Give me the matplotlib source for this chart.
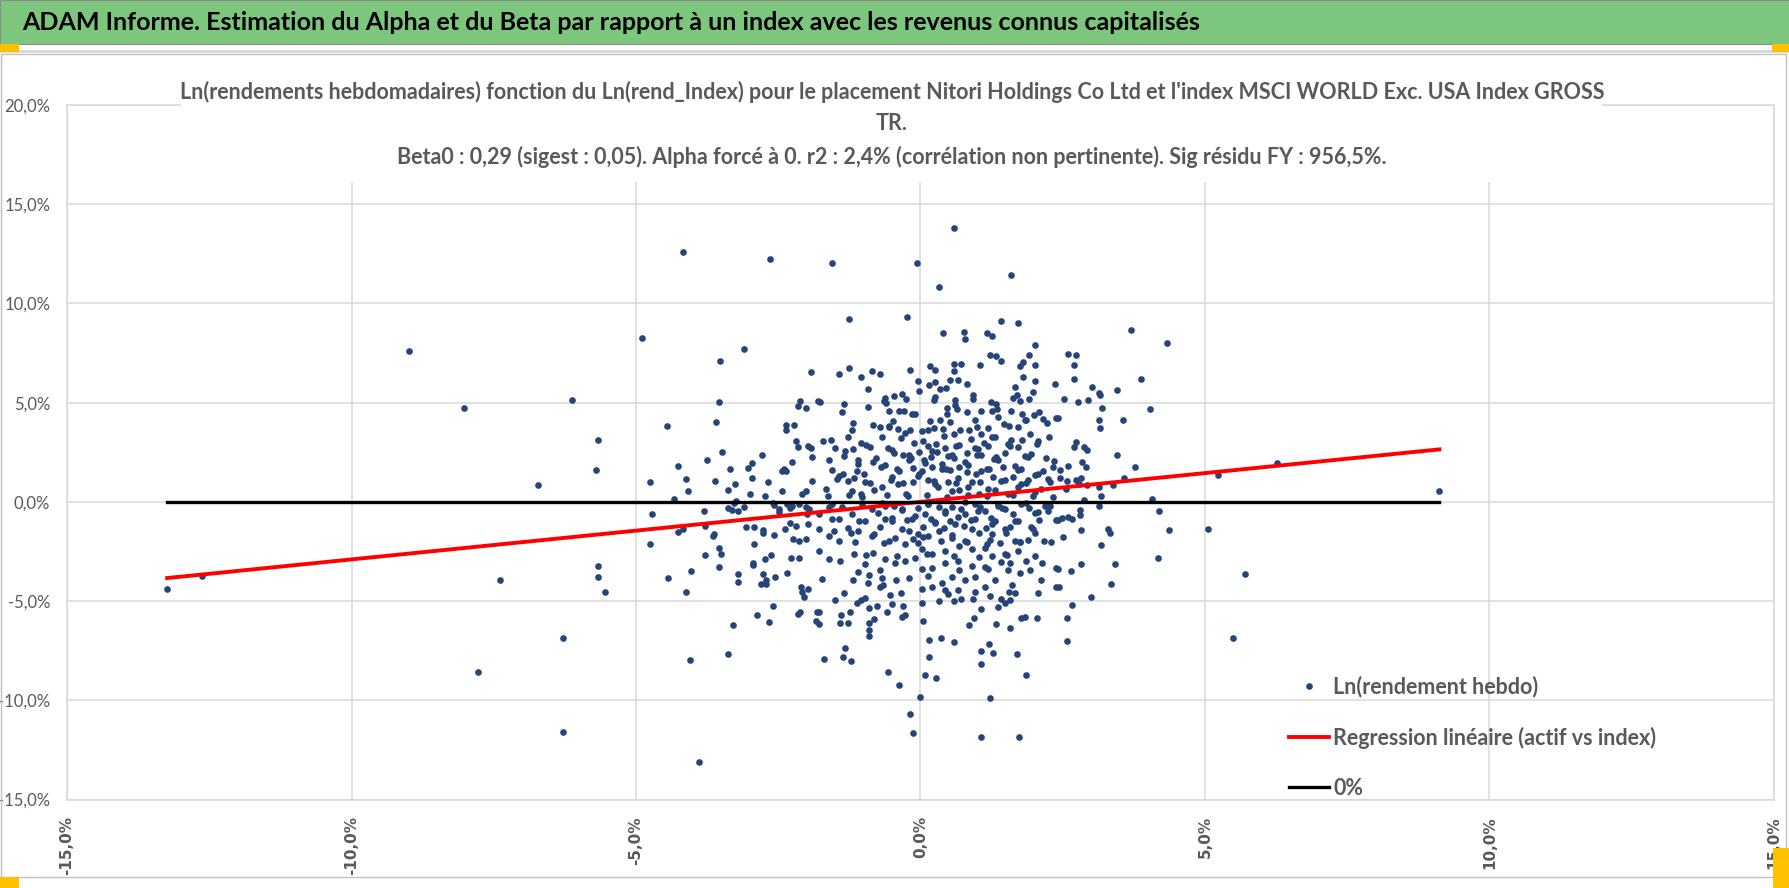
import numpy as np
import matplotlib
matplotlib.use("Agg")
import matplotlib.pyplot as plt
from matplotlib.patches import Rectangle
from matplotlib.lines import Line2D

plt.rcParams['font.family'] = ['Lato', 'DejaVu Sans']

# Ln(rendement index) (x) et Ln(rendement hebdo) (y), en %
outer_x = [-13.24, -12.63, -8.99, -8.03, -6.13, -5.66, -5.70, -6.72, -7.39, -5.66,
           -5.67, -5.55, -6.28, -7.77, -6.28, -4.17, -2.64, -4.90, -3.11, -3.53,
           -1.93, -3.54, -2.16, -2.11, -2.01, -1.80, -4.46, -3.59, -2.36, -2.23,
           -2.37, -3.89]
outer_y = [-4.37, -3.72, 7.61, 4.74, 5.11, 3.13, 1.59, 0.84, -3.93, -3.22,
           -3.80, -4.52, -6.88, -8.56, -11.59, 12.61, 12.25, 8.28, 7.69, 7.10,
           6.52, 5.04, 4.81, 5.06, 4.74, 5.06, 3.80, 4.02, 3.89, 3.87,
           3.64, -13.10]

left_x = [-4.75, -4.72, -4.76, -4.26, -4.33, -4.13, -4.09, -4.27, -4.17, -4.44,
          -4.03, -4.13, -4.05, -3.75, -3.49, -3.61, -3.81, -3.79, -3.63, -3.65,
          -3.79, -3.55, -3.51, -3.55, -3.30, -3.38, -3.35, -3.26, -3.39, -3.25,
          -3.27, -3.38, -3.32, -3.20, -3.10, -3.20, -3.20, -3.04, -2.96, -2.78,
          -2.96, -3.00, -2.74, -2.68, -2.60, -2.57, -3.06, -2.92, -2.76, -2.76,
          -2.57, -2.92, -2.94, -2.95, -2.74, -2.62, -2.76, -2.80, -2.72, -2.72,
          -2.56, -2.60, -2.88, -2.66, -2.43, -2.40, -2.36, -2.25, -2.18, -2.15,
          -1.97, -1.92, -1.91, -1.91, -2.44, -2.08, -2.01, -2.49, -2.48, -2.34,
          -2.30, -2.25, -2.14, -2.02, -1.96, -1.99, -1.97, -2.39, -2.30, -2.19,
          -2.24, -2.14, -2.02, -2.28, -2.13, -2.34, -2.10, -2.09, -2.05, -1.97,
          -2.16, -2.11, -1.82, -1.84]
left_y = [1.01, -0.63, -2.11, 1.81, 0.12, 1.14, 0.55, -1.51, -1.37, -3.85,
          -3.50, -4.52, -7.99, 2.10, 2.53, 1.07, -0.47, -1.22, -1.64, -1.74,
          -2.68, -2.31, -2.61, -3.27, -6.21, -7.69, 1.66, 0.92, 0.62, 0.04,
          -0.08, -0.33, -0.41, -0.47, -0.26, -3.63, -4.02, 1.73, 1.94, 2.38,
          1.21, 0.42, 0.27, 0.99, -0.05, -0.17, -1.29, -1.29, -1.42, -1.58,
          -1.65, -2.11, -3.10, -3.20, -2.90, -2.69, -3.65, -4.15, -4.15, -3.96,
          -3.78, -5.26, -5.69, -6.06, 1.58, 1.65, 1.58, 2.01, 3.05, 2.76,
          2.83, 2.71, 2.26, 1.07, 0.55, 0.42, 0.55, -0.35, -0.52, -0.12,
          -0.30, -0.22, -0.12, -0.26, -0.35, -0.62, -1.14, -1.36, -1.06, -1.22,
          -1.86, -1.98, -1.86, -2.83, -2.83, -3.57, -4.27, -4.52, -4.81, -4.37,
          -5.66, -5.56, -5.56, -5.98]

upper_x = [0.58, -1.55, -0.07, 0.32, 1.59, -1.26, -0.23, 0.40, 0.76, 0.79,
           1.17, 1.26, 1.41, 1.71, 2.01, 1.91, 1.81, 1.75, 2.01, 2.01,
           1.81, 1.66, 2.36, 1.97, 1.23, 1.32, 1.42, 1.05, 0.72, 0.58,
           0.59, 0.52, 0.66, 0.82, 0.44, 0.34, 0.16, 0.25, 0.15, 0.25,
           -0.04, -0.03, -0.19, -1.44, -1.26, -1.04, -0.86, -0.72, -0.93, -1.77,
           -1.34, -1.38, -0.92, -0.63, -0.47, -0.33, -0.25, -0.65, -0.60, -0.55,
           -0.37, -0.29, -0.15, -0.09, 0.23, 0.26, 0.46, 0.60, 0.61, 0.65,
           0.47, 0.81, 0.92, 0.93, 1.07, 1.24, 1.32, 1.35, 1.25, 1.59,
           1.62, 1.70, 1.75, 1.90, 1.79, 1.86, 1.99, 2.09, 2.16, 2.22,
           2.38]
upper_y = [13.79, 12.03, 12.03, 10.85, 11.44, 9.23, 9.32, 8.49, 8.58, 8.21,
           8.51, 8.36, 9.10, 9.00, 7.91, 7.39, 7.05, 6.83, 6.88, 6.07,
           6.29, 5.80, 5.93, 5.54, 7.39, 7.34, 7.09, 6.88, 6.95, 6.95,
           6.58, 6.13, 6.16, 5.95, 5.76, 5.68, 6.83, 6.66, 5.90, 6.03,
           6.07, 5.57, 6.63, 6.45, 6.74, 6.30, 6.58, 6.43, 5.71, 5.04,
           4.93, 4.55, 4.76, 5.21, 5.34, 5.42, 5.17, 5.06, 4.96, 4.56,
           4.60, 4.60, 4.43, 4.45, 5.11, 5.28, 4.74, 5.14, 4.88, 4.66,
           4.45, 4.55, 5.36, 5.16, 4.60, 5.05, 4.95, 4.68, 4.58, 4.60,
           5.25, 5.38, 5.09, 5.18, 4.43, 4.11, 4.38, 4.53, 4.18, 3.95,
           4.25]

core_x = [-1.18, -1.21, -1.28, -1.72, -1.58, -1.50, -1.61, -1.66, -1.46, -1.36,
          -1.17, -1.18, -1.05, -1.00, -1.10, -0.84, -0.71, -0.55, -0.67, -0.48,
          -0.56, -0.40, -0.27, -0.19, -0.89, -0.83, -0.70, -0.57, -0.47, -0.30,
          -0.21, -0.13, -0.03, -0.03, -0.50, -0.39, -0.68, -0.82, -1.04, -1.26,
          -0.25, 0.02, 0.13, 0.16, 0.23, 0.39, 0.34, 0.52, 0.58, 0.69,
          0.85, 0.96, 1.00, 1.06, 1.18, 1.25, 1.37, 1.46, 1.55, 1.72,
          1.83, 1.93, 2.07, 2.25, 2.34, 1.95, 1.72, 1.59, 1.49, 1.37,
          1.19, 1.07, 0.95, 0.82, 0.67, 0.55, 0.43, 0.29, 0.14, 0.06,
          0.20, 0.37, 0.52, 0.67, 0.84, 0.98, 1.16, 1.28, 1.45, 1.63,
          1.77, 1.89, 2.07, 2.24, 2.33, 0.14, 0.31, 0.49, 0.67, 0.84,
          1.02, 1.31, 1.54, 1.72, 2.01]
core_y = [3.99, 3.64, 3.27, 3.05, 3.10, 2.73, 2.09, 0.63, 1.15, 1.42,
          1.22, 2.65, 2.96, 1.42, 2.12, 3.85, 3.78, 3.78, 3.26, 4.08,
          3.81, 3.65, 3.45, 3.62, 2.77, 2.01, 1.76, 2.71, 2.48, 2.37,
          2.09, 1.69, 2.52, 1.42, 1.25, 0.92, 0.75, 0.58, 0.42, 0.33,
          0.42, 3.59, 3.64, 4.09, 3.74, 3.69, 4.11, 4.01, 3.43, 3.60,
          3.60, 4.11, 3.77, 3.43, 3.72, 3.27, 4.27, 3.90, 3.83, 3.77,
          4.11, 3.43, 3.09, 3.26, 2.05, 2.40, 2.77, 3.10, 2.46, 2.09,
          2.81, 2.38, 2.70, 2.47, 2.85, 2.36, 2.72, 2.51, 2.80, 2.09,
          1.76, 1.93, 1.59, 1.76, 1.85, 1.42, 1.67, 1.25, 1.76, 1.25,
          1.67, 1.08, 1.42, 1.17, 1.76, 1.08, 0.75, 1.00, 0.58, 0.75,
          0.42, 0.58, 0.42, 0.75, 0.50]

center_x = [-0.62, -0.50, -0.38, -0.30, -0.16, -0.04, 0.08, 0.20, 0.26, 0.37,
            0.49, 0.55, 0.66, 0.78, 0.90, 1.01, 1.07, 1.19, 1.30, 1.42,
            1.54, 1.66, 1.77, 1.89, 2.01, 2.12, -0.67, -0.50, -0.33, -0.21,
            -0.09, 0.05, 0.14, 0.26, 0.43, 0.55, 0.66, 0.78, 0.90, 1.01,
            1.16, 1.25, 1.36, 1.51, 1.63, 1.75, 1.86, 1.95, 2.07, -0.85,
            -0.97, -1.09, -1.20, -1.32, -1.44, -1.55]
center_y = [1.88, 2.63, 1.55, 0.97, 2.21, 1.31, 1.97, 2.55, 0.89, 1.64,
            2.30, 0.57, 1.22, 1.99, 1.02, 2.66, 1.53, 0.64, 2.14, 1.06,
            2.90, 1.81, 0.91, 2.24, 1.33, 0.66, -0.04, -0.79, -0.36, -1.45,
            -0.70, -1.78, -0.11, -1.02, -0.44, -1.69, -0.77, -0.03, -1.37, -0.46,
            -2.12, -1.10, -0.09, -1.55, -0.61, -2.03, -0.05, -1.28, -0.53, -1.70,
            0.98, 1.90, 0.55, 2.57, 1.30, -0.10]

dense_x = [-0.35, 0.05, 0.42, 0.88, 1.31, 1.78,
           -0.95, -0.12, 0.28, 0.63, 1.12, 1.58, 2.05,
           -1.35, -0.78, -0.21, 0.18, 0.58, 0.99, 1.33, 1.84, 2.21,
           -1.55, -1.12, -0.42, 0.02, 0.45, 0.82, 1.21, 1.71, 2.15,
           -1.28, -0.88, -0.52, -0.14, 0.24, 0.62, 1.05, 1.48, 1.86, 2.28,
           -1.62, -1.02, -0.58, -0.22, 0.11, 0.46, 0.83, 1.17, 1.62, 1.98, 2.33,
           -1.38, -0.86, -0.47, -0.05, 0.33, 0.71, 1.04, 1.43, 1.91, 2.27,
           -1.55, -1.08, -0.62, -0.24, 0.19, 0.52, 0.88, 1.24, 1.66, 2.08,
           -1.28, -0.71, -0.32, 0.05, 0.42, 0.76, 1.15, 1.57, 1.98,
           -1.15, -0.55, -0.05, 0.36, 0.81, 1.22, 1.75, 2.17,
           -0.95, -0.41, 0.12, 0.58, 1.02, 1.52, 2.02,
           -0.72, 0.02, 0.68, 1.18, 1.92,
           -0.35, 0.48, 1.55, 2.06]
dense_y = [3.21, 3.09, 3.34, 3.15, 3.28, 3.12,
           2.86, 2.98, 2.91, 2.79, 2.95, 2.84, 2.92,
           2.31, 2.22, 2.38, 2.27, 2.19, 2.35, 2.26, 2.33, 2.21,
           1.62, 1.55, 1.68, 1.57, 1.64, 1.51, 1.66, 1.59, 1.54,
           1.03, 0.95, 1.08, 0.98, 1.05, 0.93, 1.01, 1.09, 0.96, 1.02,
           0.31, 0.26, 0.37, 0.28, 0.34, 0.22, 0.33, 0.27, 0.36, 0.29, 0.24,
           -0.28, -0.35, -0.22, -0.31, -0.26, -0.38, -0.24, -0.33, -0.29, -0.21,
           -0.88, -0.95, -0.84, -0.92, -0.86, -0.97, -0.91, -0.83, -0.94, -0.89,
           -1.31, -1.26, -1.37, -1.28, -1.34, -1.23, -1.33, -1.29, -1.36,
           -2.02, -1.95, -2.07, -1.98, -2.04, -1.93, -2.01, -1.97,
           -2.68, -2.74, -2.65, -2.71, -2.77, -2.66, -2.73,
           -3.42, -3.36, -3.45, -3.38, -3.41,
           -4.58, -4.63, -4.55, -4.61]

lower_x = [-1.69, -1.36, -1.22, -1.32, -0.57, -0.37, -0.19, -0.13, -0.01, 0.08,
           0.27, 0.15, 0.15, 0.36, 0.58, 0.05, 1.07, 1.07, 1.20, 1.28,
           1.23, 1.07, 1.73, 1.69, 1.86, 2.04, 1.76, 1.84, 1.57, 1.33,
           0.94, 0.86, 1.07, 1.37, 1.49, 1.57, -0.91, -0.91, -0.91, -0.82,
           -1.42, -1.28, -1.40, -1.24, -1.79, -1.79, -0.33, -0.28, -0.31, -0.59,
           -0.50, -0.77, -0.90, -1.11, -1.04, -0.97, -1.50, -1.34, -1.18, -1.09,
           -0.91, -0.93, -0.71, -0.66, -0.53, -0.43, -0.21, -0.68, 0.03, 0.33,
           0.58, 0.71, 0.92, 0.02, 0.20, 0.43, 0.66, 0.95, 1.13, 1.22,
           1.42, 1.66, 1.60, 1.31, 1.75, 2.11, 2.14, 2.38, 2.39, 2.30,
           2.39, 2.01, 1.86, 1.58, 1.54, 1.42, 1.13, 0.95, 0.78, 0.55,
           0.37, 0.14, 0.20, 0.43, 0.66, 0.90, 1.25, 1.49, 1.72, 1.89,
           1.66, 1.40, 1.13, 0.90, 0.67, 0.43, 0.20, 0.02, -0.09, -0.27,
           -0.44, -0.62, -0.83, -0.97, -1.17, -1.41, -1.61, -1.73, -1.79, -1.44,
           -1.61, -1.79, -1.52, -1.23, -1.09, -0.82, -0.65, -0.44, -0.27, -0.13,
           -0.04, 0.14, 0.32, 0.55, 0.78, 1.02, 1.25, 1.48, 1.72, 2.01,
           2.24, -1.44, -1.20, -0.97, -0.74, -0.50, -0.33, -0.15, 0.08, 0.26,
           0.43, 0.61, 0.78, 0.96, 1.13, 1.31, 1.49, -1.79, -1.61, -1.03,
           -0.62, 0.14, 0.55, 0.96, 1.37, 1.77, 2.18]
lower_y = [-7.90, -7.82, -8.00, -7.39, -8.56, -9.23, -10.70, -11.67, -9.81, -8.71,
           -8.88, -7.82, -6.95, -6.88, -7.08, -6.00, -7.54, -8.19, -7.17, -7.62,
           -9.90, -11.87, -11.87, -7.67, -8.71, -5.84, -5.84, -5.78, -6.35, -6.15,
           -5.84, -6.21, -5.41, -5.32, -5.12, -4.94, -6.78, -6.45, -6.11, -5.89,
           -6.13, -6.13, -5.69, -5.56, -6.15, -5.56, -5.78, -5.69, -5.24, -5.56,
           -5.17, -5.24, -5.36, -5.11, -4.94, -4.86, -4.94, -4.60, -3.93, -3.52,
           -3.69, -4.10, -4.30, -4.19, -4.69, -3.93, -3.85, -3.85, -5.11, -5.02,
           -5.02, -4.90, -4.90, -4.39, -4.30, -4.44, -4.44, -4.52, -4.27, -4.74,
           -4.90, -4.60, -4.19, -3.93, -3.57, -3.93, -3.10, -3.35, -4.30, -2.04,
           -0.92, -1.59, -2.96, -3.10, -3.43, -3.01, -3.27, -3.77, -3.93, -3.77,
           -4.10, -3.73, -3.31, -3.06, -2.97, -3.23, -2.72, -2.64, -2.47, -1.90,
           -1.97, -2.05, -2.31, -2.40, -2.22, -2.47, -2.64, -2.39, -2.81, -2.97,
           -3.06, -2.89, -2.57, -3.14, -2.64, -2.96, -2.90, -3.88, -2.46, -1.97,
           -1.72, -1.38, -1.46, -1.55, -1.48, -1.64, -2.05, -1.80, -2.12, -1.89,
           -1.62, -1.73, -1.47, -1.80, -1.96, -1.55, -1.63, -1.38, -0.96, -0.55,
           -0.45, -0.88, -0.63, -0.95, -0.55, -0.97, -0.39, -0.87, -0.63, -1.05,
           -0.55, -1.13, -0.62, -0.88, -0.46, -0.96, -0.38, -0.62, -0.28, -0.14,
           -0.21, -0.12, -0.24, -0.09, -0.19, -0.13, -0.22]

right_x = [3.70, 4.34, 2.60, 2.74, 2.70, 2.70, 3.88, 3.02, 3.14, 3.16,
           3.45, 2.52, 2.76, 2.95, 3.19, 4.04, 2.42, 3.13, 3.56, 3.15,
           2.73, 2.70, 2.87, 2.92, 3.45, 2.83, 2.91, 2.60, 3.77, 2.45,
           3.57, 2.46, 2.58, 2.74, 2.82, 2.79, 2.92, 3.13, 3.39, 2.56,
           3.17, 4.06, 2.87, 5.23, 6.26, 9.12, 3.13, 4.20, 4.36, 5.05,
           5.71, 5.50, 4.18, 3.42, 3.34, 2.99, 2.82, 2.64, 2.42, 2.43,
           2.67, 2.58, 2.58, 3.18, 3.29, 3.33, 2.82, 2.50, 2.48, 2.42,
           2.60, 2.66, 2.81, 2.81]
right_y = [8.64, 7.99, 7.46, 7.41, 6.88, 6.21, 6.21, 5.78, 5.50, 5.41,
           5.63, 5.18, 5.04, 5.11, 4.74, 4.67, 4.24, 4.15, 4.15, 3.71,
           3.00, 2.74, 2.76, 2.61, 2.38, 2.03, 1.74, 1.81, 1.74, 1.59,
           1.22, 1.22, 1.06, 1.12, 1.22, 0.89, 0.84, 0.75, 0.87, 0.63,
           0.32, 0.15, 0.08, 1.36, 1.95, 0.55, -0.20, -0.48, -1.44, -1.37,
           -3.63, -6.87, -2.83, -3.13, -4.15, -4.82, -3.13, -3.48, -3.38, -4.30,
           -5.19, -5.86, -7.02, -2.18, -1.37, -1.59, -1.44, -1.79, -0.79, -0.92,
           -0.75, -0.84, -0.42, -0.64]

beta0 = 0.29
x_ticks = [-15, -10, -5, 0, 5, 10, 15]
y_ticks = [-15, -10, -5, 0, 5, 10, 15, 20]
legend_labels = ["Ln(rendement hebdo)", "Regression linéaire (actif vs index)", "0%"]

banner = "ADAM Informe. Estimation du Alpha et du Beta par rapport à un index avec les revenus connus capitalisés"
title1 = ("Ln(rendements hebdomadaires) fonction du Ln(rend_Index) pour le placement "
          "Nitori Holdings Co Ltd et l'index MSCI WORLD Exc. USA Index GROSS")
title2 = "TR."
title3 = ("Beta0 : 0,29 (sigest : 0,05). Alpha forcé à 0. r2 : 2,4% (corrélation non pertinente). "
          "Sig résidu FY : 956,5%.")

x = np.concatenate([outer_x, left_x, upper_x, core_x, center_x, dense_x, lower_x, right_x]) / 100
y = np.concatenate([outer_y, left_y, upper_y, core_y, center_y, dense_y, lower_y, right_y]) / 100

W, H = 1790, 888
fig = plt.figure(figsize=(W / 100, H / 100), dpi=100)


def fx(px):
    return px / W


def fy(py):
    return 1 - py / H


def pct(v):
    return f"{v:.1f}%".replace('.', ',')


# bandeau vert
fig.patches.append(Rectangle((0, fy(44)), 1, 44 / H, transform=fig.transFigure,
                             facecolor='#7DC67D', edgecolor='#8A8A8A', lw=0.8, zorder=0))
fig.text(fx(22), fy(22), banner, ha='left', va='center', fontsize=18,
         fontweight='bold', color='black')
fig.patches.append(Rectangle((0, fy(53)), 1, 2.5 / H, transform=fig.transFigure,
                             facecolor='#D9D9D9', edgecolor='none', zorder=0))
# cadre du graphique
fig.patches.append(Rectangle((fx(1), fy(877)), fx(1785), (877 - 54) / H, transform=fig.transFigure,
                             facecolor='none', edgecolor='#BFBFBF', lw=1, zorder=0))
for (px, py, w, h) in [(0, 44, 19, 8), (1772, 44, 18, 8), (0, 877, 19, 11), (1773, 848, 17, 40)]:
    fig.patches.append(Rectangle((fx(px), fy(py + h)), w / W, h / H, transform=fig.transFigure,
                                 facecolor='#FFC000', edgecolor='none', zorder=6))

ax = fig.add_axes([fx(67), fy(799.5), fx(1774 - 67), (799.5 - 105) / H])
ax.set_xlim(-0.15, 0.15)
ax.set_ylim(-0.15, 0.20)
ax.set_xticks([t / 100 for t in x_ticks])
ax.set_xticklabels([pct(t) for t in x_ticks], rotation=90, fontfamily='DejaVu Sans',
                   fontweight='bold', fontsize=11, color='#595959')
ax.set_yticks([t / 100 for t in y_ticks])
ax.set_yticklabels([pct(t) for t in y_ticks], fontsize=12, color='#595959')
ax.tick_params(axis='x', length=0, pad=12)
ax.tick_params(axis='y', length=0, pad=12)
ax.grid(True, color='#D9D9D9', lw=1.1)
ax.set_axisbelow(True)
for s in ax.spines.values():
    s.set_color('#D9D9D9')
    s.set_linewidth(1.1)

ax.plot(x, y, 'o', ms=4.8, mew=0, color='#264478', zorder=2)
x_line = np.array([x.min(), x.max()])
ax.plot(x_line, beta0 * x_line, color='#FF0000', lw=2.8, zorder=3)
ax.plot(x_line, [0, 0], color='black', lw=2.4, zorder=3)

handles = [Line2D([], [], ls='none', marker='o', ms=4.8, mew=0, color='#264478'),
           Line2D([], [], color='#FF0000', lw=2.8),
           Line2D([], [], color='black', lw=2.4)]
leg = ax.legend(handles, legend_labels, loc='upper left', bbox_to_anchor=(0.716, 0.178),
                frameon=False, fontsize=15.5, handlelength=1.85, handletextpad=0.2,
                labelspacing=1.35, borderpad=0, borderaxespad=0)
for t in leg.get_texts():
    t.set_color('#595959')
    t.set_fontweight('bold')

# titre du graphique sur fond blanc
fig.patches.append(Rectangle((fx(181), fy(182)), fx(1602 - 181), (182 - 58) / H,
                             transform=fig.transFigure, facecolor='white',
                             edgecolor='none', zorder=2))
for txt, py in [(title1, 91.7), (title2, 124), (title3, 157)]:
    fig.text(fx(892), fy(py), txt, ha='center', va='center', fontsize=15.5,
             fontweight='bold', color='#595959', zorder=3)

fig.savefig("out.png", dpi=100)
